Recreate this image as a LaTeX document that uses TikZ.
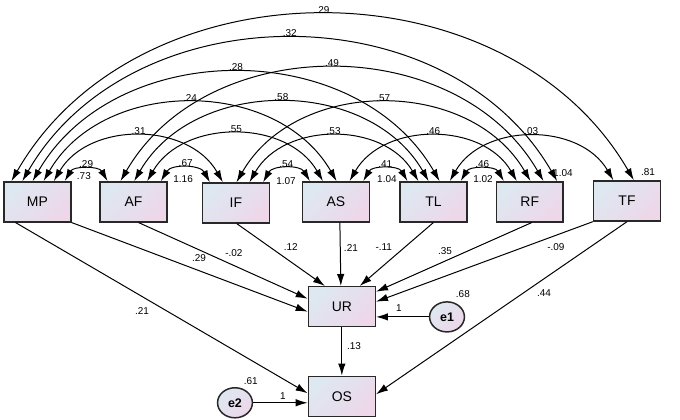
\documentclass[tikz,border=0pt]{standalone}
\usepackage{fontspec}
\setmainfont{Liberation Sans}
\usepackage{tikz}
\usetikzlibrary{arrows.meta,calc,shapes.geometric}

\definecolor{boxblue}{RGB}{222,232,241}
\definecolor{boxpink}{RGB}{237,215,233}
\definecolor{rim}{RGB}{40,40,40}

\begin{document}
\begin{tikzpicture}[
  var/.style={draw=rim, line width=1.5pt, left color=boxblue, right color=boxpink,
              shading angle=45, minimum width=2.36cm, minimum height=1.41cm,
              inner sep=0pt, font=\fontsize{14}{16}\selectfont},
  err/.style={var, ellipse, minimum width=1.23cm, minimum height=1.06cm,
              font=\fontsize{12.5}{14}\selectfont\bfseries},
  lbl/.style={font=\fontsize{10}{12}\selectfont, inner sep=1.5pt},
  cov/.style={{Latex[length=12pt,width=7.5pt]}-{Latex[length=12pt,width=7.5pt]}, line width=1pt},
  pth/.style={-{Latex[length=12pt,width=7.5pt]}, line width=1pt}]
\useasboundingbox (0,0) rectangle (23.99,14.81);

% observed exogenous row
\node[var] (MP) at (1.32,7.69) {MP};
\node[var] (AF) at (4.71,7.69) {AF};
\node[var] (IF) at (8.32,7.65) {IF};
\node[var] (AS) at (11.85,7.69) {AS};
\node[var] (TL) at (15.29,7.69) {TL};
\node[var] (RF) at (18.69,7.69) {RF};
\node[var] (TF) at (22.12,7.72) {TF};

% endogenous and errors
\node[var] (UR) at (12.06,3.99) {UR};
\node[var] (OS) at (12.06,0.83) {OS};
\node[err] (e1) at (15.77,3.63) {e1};
\node[err] (e2) at (8.29,0.60) {e2};

% variances
\node[lbl] (vMP) at (2.96,8.61) {.73};
\node[lbl] (vAF) at (6.46,8.50) {1.16};
\node[lbl] (vIF) at (10.09,8.43) {1.07};
\node[lbl] (vAS) at (13.65,8.50) {1.04};
\node[lbl] (vTL) at (17.04,8.50) {1.02};
\node[lbl] (vRF) at (19.86,8.71) {1.04};
\node[lbl] (vTF) at (22.86,8.75) {.81};
\node[lbl] (ve1) at (16.33,4.44) {.68};
\node[lbl] (ve2) at (8.85,1.38) {.61};

% covariances
\foreach \a/\fa/\b/\fb/\w in {
  MP/0.90/AF/0.12/.29, AF/0.90/IF/0.12/.67, IF/0.90/AS/0.12/.54,
  AS/0.90/TL/0.12/.41, TL/0.90/RF/0.12/.46,
  MP/0.74/IF/0.31/.31, AF/0.70/AS/0.31/.55, IF/0.70/TL/0.28/.53,
  AS/0.70/RF/0.31/.46, TL/0.74/TF/0.30/.03,
  MP/0.59/AS/0.51/.24, AF/0.51/TL/0.43/.58, IF/0.51/RF/0.51/.57,
  MP/0.43/TL/0.59/.28, AF/0.31/RF/0.70/.49,
  MP/0.28/RF/0.90/.32,
  MP/0.12/TF/0.60/.29}{%
  \draw[cov] ($(\a.north west)!\fa!(\a.north east)$)
    to[bend left=60, looseness=1.05] node[lbl, above] (c\a\b) {\w}
    ($(\b.north west)!\fb!(\b.north east)$);}

% regression paths
\draw[pth] (MP.south east) -- ([yshift=-5pt]UR.west);
\draw[pth] ([xshift=5pt]AF.south) -- ([yshift=8pt]UR.west);
\draw[pth] ([xshift=1pt]IF.south) -- ([xshift=-17pt]UR.north);
\draw[pth] ([xshift=4pt]AS.south) -- ([xshift=-1pt]UR.north);
\draw[pth] (TL.south) -- ([xshift=18pt]UR.north);
\draw[pth] ([xshift=2pt]RF.south) -- ([yshift=15pt]UR.east);
\draw[pth] (TF.south west) -- ([yshift=5pt]UR.east);
\draw[pth] (TF.south) -- ([yshift=2pt]OS.east);
\draw[pth] ([xshift=-22pt]MP.south) -- ([yshift=3pt]OS.west);
\draw[pth] (UR) -- (OS);
\draw[pth] (e1) -- (e1 -| UR.east);
\draw[pth] (e2) -- (e2 -| OS.west);

% weights
\node[lbl] (wMPUR) at (7.02,5.71) {.29};
\node[lbl] (wAFUR) at (8.25,5.89) {-.02};
\node[lbl] (wIFUR) at (10.26,6.10) {.12};
\node[lbl] (wASUR) at (12.38,6.07) {.21};
\node[lbl] (wTLUR) at (13.54,6.10) {-.11};
\node[lbl] (wRFUR) at (15.70,5.96) {.35};
\node[lbl] (wTFUR) at (19.61,6.10) {-.09};
\node[lbl] (wMPOS) at (5.01,3.84) {.21};
\node[lbl] (wTFOS) at (19.19,4.48) {.44};
\node[lbl] (wUROS) at (12.49,2.61) {.13};
\node[lbl] (we1UR) at (14.07,3.95) {1};
\node[lbl] (we2OS) at (9.98,0.85) {1};
\end{tikzpicture}
\end{document}
